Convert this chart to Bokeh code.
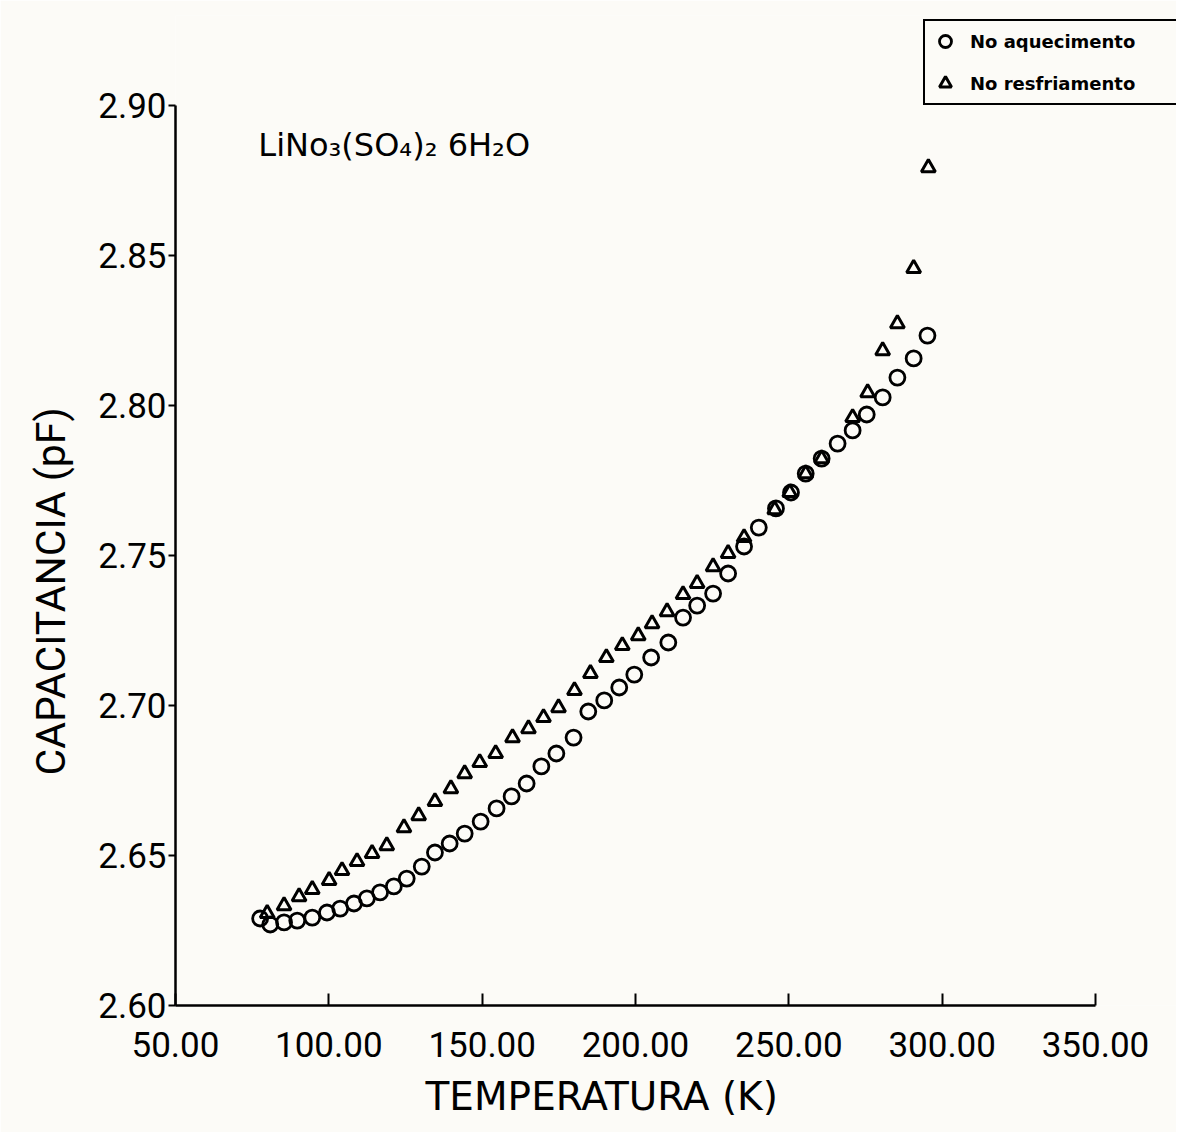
from bokeh.plotting import figure
from bokeh.models import (Legend, LegendItem, Label, FixedTicker, NumeralTickFormatter,
                          Range1d, Title)
from bokeh.embed import file_html
from bokeh.resources import INLINE

# Heating series (circles): temperature (K), capacitance (pF)
heat_T = [77.6, 80.9, 85.4, 89.7, 94.6, 99.4, 103.7, 108.2, 112.4, 116.7, 121.2, 125.4,
          130.3, 134.6, 139.4, 144.3, 149.5, 154.7, 159.6, 164.5, 169.3, 174.2, 179.8,
          184.6, 189.8, 194.7, 199.6, 205.1, 210.7, 215.5, 220.1, 225.3, 230.2, 235.4,
          240.2, 245.8, 250.7, 255.5, 260.7, 265.9, 270.8, 275.4, 280.6, 285.4, 290.7, 295.2]
heat_C = [2.629, 2.627, 2.6277, 2.6283, 2.6293, 2.631, 2.6323, 2.634, 2.6357, 2.6377, 2.6397, 2.6423,
          2.6463, 2.651, 2.654, 2.6573, 2.6613, 2.6657, 2.6697, 2.674, 2.6797, 2.684, 2.6893,
          2.698, 2.7017, 2.706, 2.7103, 2.716, 2.721, 2.7293, 2.7333, 2.7373, 2.744, 2.753,
          2.7593, 2.7657, 2.771, 2.7773, 2.7823, 2.7873, 2.7917, 2.797, 2.8027, 2.8093, 2.8157, 2.8233]

# Cooling series (triangles)
cool_T = [79.9, 85.4, 90.3, 94.6, 100.1, 104.3, 109.2, 114.1, 118.9, 124.5, 129.3, 134.6,
          139.8, 144.3, 149.2, 154.4, 159.9, 165.1, 170.0, 174.9, 180.1, 185.3, 190.5,
          195.7, 200.9, 205.4, 210.3, 215.5, 220.1, 225.3, 230.2, 235.4, 245.4, 250.3,
          255.5, 260.7, 270.8, 275.7, 280.6, 285.4, 290.7, 295.5]
cool_C = [2.6307, 2.6333, 2.6363, 2.6387, 2.6417, 2.645, 2.648, 2.6507, 2.6533, 2.6593, 2.6633, 2.668,
          2.6723, 2.6773, 2.681, 2.684, 2.6893, 2.6923, 2.696, 2.6993, 2.705, 2.7107, 2.716,
          2.72, 2.7233, 2.7273, 2.7313, 2.737, 2.7407, 2.7463, 2.7507, 2.756, 2.7653, 2.771,
          2.7773, 2.7823, 2.796, 2.8043, 2.8183, 2.8273, 2.8457, 2.8793]

x_ticks = [50, 100, 150, 200, 250, 300, 350]
y_ticks = [2.60, 2.65, 2.70, 2.75, 2.80, 2.85, 2.90]
legend_labels = ["No aquecimento", "No resfriamento"]
title_text = "LiNo\u2083(SO\u2084)\u2082 6H\u2082O"
x_label = "TEMPERATURA (K)"
y_label = "CAPACITANCIA (pF)"

BG = "#fcfbf7"
TICK_FONT = "Roboto"

p = figure(width=1176, height=1132, output_backend="svg", toolbar_location=None,
           x_range=Range1d(50, 376.41), y_range=Range1d(2.60, 2.93),
           min_border_left=175, min_border_right=0, min_border_top=15, min_border_bottom=127,
           background_fill_color=BG, border_fill_color=BG, outline_line_color=None)
p.grid.visible = False

r_heat = p.scatter(heat_T, heat_C, marker="circle", size=15, fill_alpha=0,
                   line_color="black", line_width=2.8)
r_cool = p.scatter(cool_T, cool_C, marker="triangle", size=14, fill_alpha=0,
                   line_color="black", line_width=3)

# x axis
xa = p.xaxis[0]
xa.bounds = (50, 350)
xa.ticker = FixedTicker(ticks=x_ticks)
xa.formatter = NumeralTickFormatter(format="0.00")
xa.axis_line_width = 2.5
xa.major_tick_line_width = 2
xa.major_tick_in = 12
xa.major_tick_out = 0
xa.minor_tick_line_color = None
xa.major_label_text_font = TICK_FONT
xa.major_label_text_font_size = "35px"
xa.major_label_text_color = "black"
xa.major_label_text_line_height = 0.6
xa.major_label_standoff = 26

# y axis
ya = p.yaxis[0]
ya.bounds = (2.60, 2.90)
ya.ticker = FixedTicker(ticks=y_ticks)
ya.formatter = NumeralTickFormatter(format="0.00")
ya.axis_line_width = 2.5
ya.major_tick_line_width = 2
ya.major_tick_in = 0
ya.major_tick_out = 7
ya.minor_tick_line_color = None
ya.major_label_text_font = TICK_FONT
ya.major_label_text_font_size = "35px"
ya.major_label_text_color = "black"
ya.major_label_standoff = 2

# axis titles, placed like the reference
p.add_layout(Title(text=x_label, align="left", offset=250, standoff=24,
                   text_font="DejaVu Sans", text_font_style="normal",
                   text_font_size="39px", text_color="black"), "below")
p.add_layout(Title(text=y_label, align="left", offset=230, standoff=42,
                   text_font="Roboto", text_font_style="normal",
                   text_font_size="41px", text_color="black"), "left")

# compound formula label
p.add_layout(Label(x=77, y=2.8867, text=title_text, text_font="DejaVu Sans",
                   text_font_size="32px", text_color="black", text_baseline="alphabetic"))

legend = Legend(items=[LegendItem(label=legend_labels[0], renderers=[r_heat]),
                       LegendItem(label=legend_labels[1], renderers=[r_cool])],
                location=(748, 900), orientation="vertical",
                border_line_color="black", border_line_width=2.5, border_line_alpha=1,
                background_fill_color=BG, background_fill_alpha=1,
                label_text_font="DejaVu Sans", label_text_font_style="bold",
                label_text_font_size="18px", label_text_color="black",
                glyph_width=30, glyph_height=30, label_height=30, label_width=202,
                label_standoff=10, padding=5, spacing=12, margin=0)
p.add_layout(legend, "center")

open("out.html", "w").write(file_html(p, INLINE))
